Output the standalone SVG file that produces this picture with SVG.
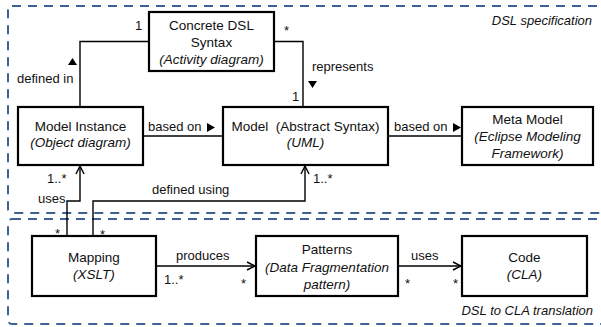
<svg xmlns="http://www.w3.org/2000/svg" width="601" height="327" viewBox="0 0 601 327">
  <defs>
    <style>
      .region { fill: none; stroke: #3d6195; stroke-width: 2; stroke-dasharray: 9 7; }
      .node rect { fill: #ffffff; stroke: #000000; stroke-width: 2.2; }
      text { font-family: "Liberation Sans", Arial, sans-serif; font-size: 13px; fill: #111111; }
      .node text { font-size: 13.5px; }
      .c { text-anchor: middle; }
      .i { font-style: italic; }
      .wire { fill: none; stroke: #000000; stroke-width: 1.4; }
      .dir { fill: #000000; }
    </style>
    <marker id="open" viewBox="0 0 10 10" refX="9" refY="5" markerWidth="10" markerHeight="10" markerUnits="userSpaceOnUse" orient="auto">
      <path d="M1,1 L9,5 L1,9" fill="none" stroke="#000" stroke-width="1.4"/>
    </marker>
  </defs>

  <!-- package regions -->
  <g id="regions">
    <rect class="region" x="8" y="6" width="596" height="207" rx="4"/>
    <rect class="region" x="8" y="219" width="596" height="105" rx="4"/>
    <text class="i" x="592" y="25" text-anchor="end">DSL specification</text>
    <text class="i" x="593" y="315" text-anchor="end">DSL to CLA translation</text>
  </g>

  <!-- connectors -->
  <g id="connectors">
    <!-- Concrete DSL Syntax to Model Instance -->
    <polyline class="wire" points="149,41.5 80,41.5 80,107"/>
    <text x="135" y="30">1</text>
    <text x="17" y="83">defined in</text>
    <polygon class="dir" points="72.5,58 77,65 68,65"/>

    <!-- Concrete DSL Syntax to Model -->
    <polyline class="wire" points="274,41.5 303,41.5 303,107"/>
    <text x="284" y="35">*</text>
    <text x="312" y="71">represents</text>
    <text x="292" y="101">1</text>
    <polygon class="dir" points="308,81 317,81 312.5,88"/>

    <!-- Model Instance based on Model -->
    <line class="wire" x1="143" y1="136" x2="223" y2="136"/>
    <text x="148" y="131">based on</text>
    <polygon class="dir" points="207,123 215,127.5 207,132"/>

    <!-- Model based on Meta Model -->
    <line class="wire" x1="388" y1="136" x2="462" y2="136"/>
    <text x="394" y="131">based on</text>
    <polygon class="dir" points="453,123 461,127.5 453,132"/>

    <!-- Mapping uses Model Instance -->
    <polyline class="wire" points="67,236 67,201 80,201 80,166" marker-end="url(#open)"/>
    <text x="47" y="183">1..*</text>
    <text x="38" y="203">uses</text>
    <text x="55" y="238">*</text>

    <!-- Mapping defined using Model -->
    <polyline class="wire" points="93,236 93,201 305,201 305,166" marker-end="url(#open)"/>
    <text x="152" y="194">defined using</text>
    <text x="313" y="183">1..*</text>
    <text x="100" y="239">*</text>

    <!-- Mapping produces Patterns -->
    <line class="wire" x1="156" y1="266" x2="255" y2="266" marker-end="url(#open)"/>
    <text x="176" y="260">produces</text>
    <text x="164" y="284">1..*</text>
    <text x="241" y="288">*</text>

    <!-- Patterns uses Code -->
    <line class="wire" x1="398" y1="266" x2="461" y2="266" marker-end="url(#open)"/>
    <text x="411" y="260">uses</text>
    <text x="405" y="288">*</text>
    <text x="453" y="288">*</text>
  </g>

  <!-- nodes -->
  <g id="concrete-syntax" class="node">
    <rect x="149" y="12" width="125" height="59"/>
    <text class="c" x="211.5" y="30">Concrete DSL</text>
    <text class="c" x="211.5" y="47">Syntax</text>
    <text class="c i" x="211.5" y="64">(Activity diagram)</text>
  </g>

  <g id="model-instance" class="node">
    <rect x="18" y="107" width="125" height="58"/>
    <text class="c" x="80.5" y="131">Model Instance</text>
    <text class="c i" x="80.5" y="147">(Object diagram)</text>
  </g>

  <g id="model" class="node">
    <rect x="223" y="107" width="165" height="58"/>
    <text class="c" x="305.5" y="131" xml:space="preserve">Model  (Abstract Syntax)</text>
    <text class="c i" x="305.5" y="147">(UML)</text>
  </g>

  <g id="meta-model" class="node">
    <rect x="462" y="107" width="131" height="58"/>
    <text class="c" x="527.5" y="124">Meta Model</text>
    <text class="c i" x="527.5" y="141">(Eclipse Modeling</text>
    <text class="c i" x="527.5" y="158">Framework)</text>
  </g>

  <g id="mapping" class="node">
    <rect x="32" y="236" width="124" height="60"/>
    <text class="c" x="94" y="262">Mapping</text>
    <text class="c i" x="94" y="279">(XSLT)</text>
  </g>

  <g id="patterns" class="node">
    <rect x="256" y="236" width="142" height="60"/>
    <text class="c" x="327" y="254">Patterns</text>
    <text class="c i" x="327" y="272">(Data Fragmentation</text>
    <text class="c i" x="327" y="289">pattern)</text>
  </g>

  <g id="code" class="node">
    <rect x="462" y="236" width="125" height="60"/>
    <text class="c" x="524.5" y="262">Code</text>
    <text class="c i" x="524.5" y="279">(CLA)</text>
  </g>
</svg>
